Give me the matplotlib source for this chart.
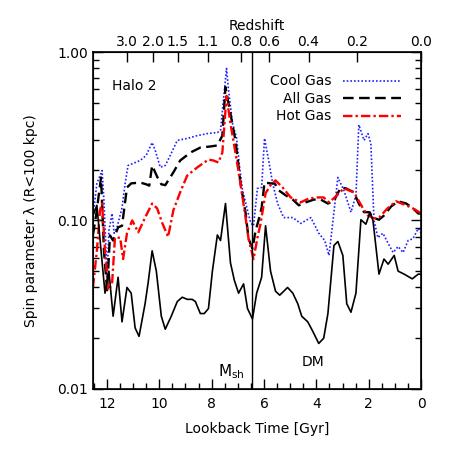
import numpy as np
import matplotlib
matplotlib.use('Agg')
import matplotlib.pyplot as plt
from matplotlib.ticker import MultipleLocator, NullFormatter

# lookback time [Gyr] and spin parameter
dm_t = [12.53, 12.38, 12.22, 12.07, 11.92, 11.76, 11.57, 11.42, 11.23, 11.07, 10.92, 10.77,
        10.54, 10.42, 10.27, 10.11, 9.92, 9.77, 9.54, 9.31, 9.12, 8.93, 8.74, 8.62, 8.43, 8.28,
        8.12, 7.97, 7.78, 7.66, 7.47, 7.28, 7.13, 6.97, 6.78, 6.63, 6.44, 6.28, 6.09, 5.94,
        5.75, 5.56, 5.40, 5.10, 4.90, 4.71, 4.56, 4.33, 4.14, 3.91, 3.72, 3.56, 3.33, 3.18,
        2.99, 2.84, 2.68, 2.49, 2.30, 2.11, 1.95, 1.84, 1.61, 1.42, 1.26, 1.03, 0.88, 0.65,
        0.34, 0.11, 0.0]
dm_v = [0.107, 0.123, 0.066, 0.037, 0.050, 0.027, 0.046, 0.025, 0.040, 0.037, 0.023, 0.0205,
        0.032, 0.043, 0.066, 0.050, 0.027, 0.0226, 0.027, 0.033, 0.035, 0.034, 0.034, 0.033,
        0.028, 0.028, 0.030, 0.050, 0.082, 0.076, 0.126, 0.056, 0.044, 0.037, 0.042, 0.030,
        0.026, 0.037, 0.046, 0.093, 0.050, 0.038, 0.036, 0.040, 0.037, 0.032, 0.027, 0.025,
        0.022, 0.0186, 0.020, 0.028, 0.071, 0.075, 0.062, 0.032, 0.0285, 0.037, 0.101, 0.095,
        0.112, 0.100, 0.048, 0.059, 0.055, 0.062, 0.050, 0.048, 0.045, 0.048, 0.048]

all_t = [12.53, 12.41, 12.22, 12.11, 11.99, 11.88, 11.76, 11.57, 11.42, 11.23, 11.07, 10.73,
         10.50, 10.38, 10.27, 10.08, 9.92, 9.77, 9.46, 9.20, 8.81, 8.43, 8.05, 7.78, 7.59,
         7.47, 7.28, 7.09, 6.90, 6.70, 6.59, 6.44, 6.32, 6.21, 6.09, 5.98, 5.75, 5.59, 5.44,
         5.17, 4.90, 4.67, 4.41, 4.10, 3.83, 3.56, 3.33, 3.07, 2.87, 2.57, 2.38, 2.18, 1.99,
         1.84, 1.61, 1.42, 1.15, 0.88, 0.57, 0.31, 0.11, 0.0]
all_v = [0.082, 0.107, 0.180, 0.066, 0.0385, 0.0815, 0.076, 0.091, 0.093, 0.157, 0.166, 0.168,
         0.164, 0.161, 0.212, 0.182, 0.164, 0.162, 0.193, 0.227, 0.253, 0.271, 0.275, 0.279,
         0.319, 0.62, 0.43, 0.299, 0.168, 0.110, 0.078, 0.068, 0.087, 0.100, 0.119, 0.168,
         0.166, 0.166, 0.151, 0.141, 0.133, 0.123, 0.128, 0.133, 0.133, 0.126, 0.131, 0.157,
         0.155, 0.147, 0.126, 0.112, 0.112, 0.104, 0.101, 0.107, 0.121, 0.130, 0.126, 0.118,
         0.110, 0.110]

hot_t = [12.53, 12.38, 12.26, 12.18, 12.07, 11.95, 11.80, 11.69, 11.49, 11.38, 11.23, 11.03,
         10.80, 10.54, 10.27, 10.08, 9.89, 9.66, 9.46, 9.20, 8.93, 8.54, 8.12, 7.93, 7.74,
         7.59, 7.43, 7.28, 7.09, 6.90, 6.70, 6.59, 6.40, 6.25, 6.13, 5.94, 5.75, 5.56, 5.29,
         4.98, 4.60, 4.29, 3.95, 3.72, 3.52, 3.30, 2.95, 2.57, 2.22, 2.03, 1.80, 1.61, 1.26,
         0.96, 0.57, 0.27, 0.0]
hot_v = [0.040, 0.066, 0.115, 0.126, 0.066, 0.0385, 0.042, 0.079, 0.079, 0.059, 0.084, 0.100,
         0.085, 0.104, 0.126, 0.118, 0.097, 0.080, 0.115, 0.147, 0.185, 0.207, 0.230, 0.227,
         0.221, 0.253, 0.55, 0.376, 0.253, 0.166, 0.103, 0.078, 0.059, 0.079, 0.096, 0.145,
         0.162, 0.173, 0.157, 0.137, 0.128, 0.135, 0.137, 0.137, 0.128, 0.137, 0.155, 0.147,
         0.118, 0.107, 0.103, 0.104, 0.119, 0.130, 0.123, 0.117, 0.110]

cool_t = [12.53, 12.38, 12.18, 12.11, 12.03, 11.99, 11.92, 11.80, 11.72, 11.61, 11.42, 11.30,
          11.19, 11.00, 10.73, 10.50, 10.27, 10.15, 9.96, 9.77, 9.58, 9.31, 8.93, 8.55, 8.16,
          7.78, 7.66, 7.55, 7.43, 7.36, 7.20, 7.05, 6.93, 6.82, 6.63, 6.51, 6.40, 6.25, 6.09,
          5.98, 5.82, 5.67, 5.48, 5.25, 4.90, 4.60, 4.21, 3.91, 3.68, 3.52, 3.41, 3.18, 2.95,
          2.68, 2.49, 2.38, 2.18, 2.03, 1.92, 1.80, 1.65, 1.46, 1.26, 1.07, 0.88, 0.69, 0.50,
          0.31, 0.11, 0.0]
cool_v = [0.104, 0.166, 0.198, 0.131, 0.066, 0.046, 0.087, 0.110, 0.084, 0.091, 0.119, 0.166,
          0.212, 0.218, 0.227, 0.243, 0.290, 0.260, 0.207, 0.212, 0.243, 0.299, 0.307, 0.319,
          0.328, 0.333, 0.342, 0.515, 0.80, 0.607, 0.376, 0.311, 0.207, 0.151, 0.115, 0.097,
          0.093, 0.155, 0.157, 0.307, 0.227, 0.166, 0.126, 0.104, 0.104, 0.096, 0.104, 0.084,
          0.076, 0.062, 0.087, 0.180, 0.151, 0.112, 0.141, 0.37, 0.299, 0.328, 0.286, 0.100,
          0.079, 0.084, 0.073, 0.0645, 0.070, 0.0645, 0.076, 0.078, 0.0897, 0.084]

t_merge = 6.44
z_labels = ['3.0', '2.0', '1.5', '1.1', '0.8', '0.6', '0.4', '0.2', '0.0']
z_times = [11.22, 10.25, 9.30, 8.15, 6.88, 5.80, 4.30, 2.45, 0.0]

plt.rcParams['font.family'] = 'DejaVu Sans'
plt.rcParams['font.size'] = 10

fig = plt.figure(figsize=(4.49, 4.49), dpi=100)
ax = fig.add_axes([0.207, 0.134, 0.731, 0.750])

ax.plot(cool_t, cool_v, color='#2020ff', ls=(0, (1, 1.2)), lw=1.2, label='Cool Gas')
ax.plot(all_t, all_v, color='black', ls=(0, (4.5, 2.3)), lw=1.7, label='All Gas')
ax.plot(hot_t, hot_v, color='red', ls=(0, (4, 1.3, 1, 1.3)), lw=1.7, label='Hot Gas')
ax.plot(dm_t, dm_v, color='black', lw=1.2)
ax.axvline(t_merge, color='black', lw=1.0)

ax.set_yscale('log')
ax.set_ylim(0.01, 1.0)
ax.set_xlim(12.53, 0)
ax.set_yticks([0.01, 0.1, 1.0])
ax.set_yticklabels(['0.01', '0.10', '1.00'])
ax.yaxis.set_minor_formatter(NullFormatter())
ax.xaxis.set_major_locator(MultipleLocator(2))
ax.xaxis.set_minor_locator(MultipleLocator(0.5))
ax.tick_params(which='both', direction='in', right=True, top=False, width=1.0)
ax.tick_params(which='major', length=7)
ax.tick_params(which='minor', length=4)
ax.tick_params(axis='x', pad=6)
for s in ax.spines.values():
    s.set_linewidth(1.2)

ax.set_xlabel('Lookback Time [Gyr]', labelpad=8)
ax.set_ylabel('Spin parameter λ (R<100 kpc)', labelpad=14)

ax2 = ax.twiny()
ax2.set_xlim(ax.get_xlim())
ax2.set_xticks(z_times)
ax2.set_xticklabels(z_labels)
ax2.tick_params(direction='in', length=7, width=1.0, pad=2)
ax2.set_xlabel('Redshift', labelpad=4)

ax.text(0.058, 0.90, 'Halo 2', transform=ax.transAxes, ha='left', va='center')
ax.text(6.75, 0.0118, r'M$_{\rm sh}$', ha='right', va='baseline', fontsize=11)
ax.text(4.14, 0.0145, 'DM', ha='center', va='center')

ax.legend(loc='upper right', bbox_to_anchor=(0.955, 0.95), frameon=False, markerfirst=False,
          handlelength=4.2, handletextpad=0.8, labelspacing=0.25, borderaxespad=0)

fig.savefig('out.png', dpi=100)
